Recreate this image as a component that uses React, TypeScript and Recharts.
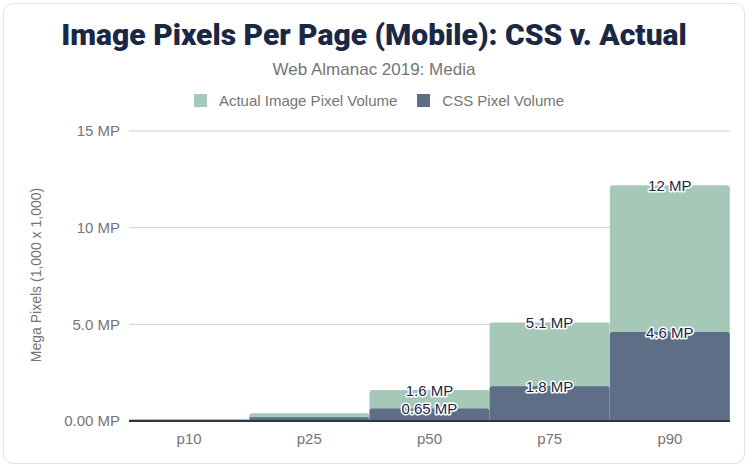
import { BarChart, Bar, XAxis, YAxis, CartesianGrid, LabelList } from "recharts";

const categories = ["p10", "p25", "p50", "p75", "p90"];
const actualPixels = [0.1, 0.4, 1.6, 5.1, 12.2];
const cssPixels = [0.05, 0.2, 0.65, 1.8, 4.6];
const yTicks = [0, 5, 10, 15];
const yTickLabels = ["0.00 MP", "5.0 MP", "10 MP", "15 MP"];

const GREEN = "#a6c8b9";
const NAVY = "#5e6e87";
const TITLE = "#1b2845";
const GREY = "#757575";
const TITLE_FONT = "Roboto, 'Noto Sans', Arial, sans-serif";
const FONT = "'Liberation Sans', Arial, sans-serif";

const data = categories.map((name, i) => ({
  name,
  actual: actualPixels[i],
  css: cssPixels[i],
}));

// value labels sit centred on the top edge of each step, small ones are skipped
const StepLabel = (props: any) => {
  const { x, y, width, value } = props;
  if (value == null || value < 0.5) return null;
  return (
    <text
      x={x + width / 2}
      y={y}
      textAnchor="middle"
      dominantBaseline="central"
      fontFamily={FONT}
      fontSize={15}
      fill={TITLE}
      stroke="#fff"
      strokeWidth={3}
      strokeLinejoin="round"
      paintOrder="stroke"
    >
      {Number(value).toPrecision(2)} MP
    </text>
  );
};

const App = () => {
  return (
    <div style={{ position: "relative", width: 748, height: 467, fontFamily: FONT }}>
      <style>{"body{margin:0}"}</style>
      <div
        style={{
          position: "absolute",
          left: 3,
          top: 3,
          width: 740,
          height: 459,
          border: "1px solid #e2e2e2",
          borderRadius: 10,
        }}
      />
      <div
        style={{
          position: "absolute",
          top: 17,
          width: "100%",
          textAlign: "center",
          fontFamily: TITLE_FONT,
          fontSize: 30,
          fontWeight: 900,
          color: TITLE,
        }}
      >
        Image Pixels Per Page (Mobile): CSS v. Actual
      </div>
      <div
        style={{
          position: "absolute",
          top: 60,
          width: "100%",
          textAlign: "center",
          fontSize: 17,
          color: GREY,
        }}
      >
        Web Almanac 2019: Media
      </div>
      <div
        style={{
          position: "absolute",
          top: 92,
          left: 5,
          width: "100%",
          display: "flex",
          justifyContent: "center",
          alignItems: "center",
          fontSize: 15,
          color: GREY,
        }}
      >
        <span style={{ width: 13, height: 13, background: GREEN, marginRight: 12 }} />
        <span style={{ marginRight: 20 }}>Actual Image Pixel Volume</span>
        <span style={{ width: 13, height: 13, background: NAVY, marginRight: 12 }} />
        <span>CSS Pixel Volume</span>
      </div>
      <div
        style={{
          position: "absolute",
          left: 36,
          top: 275,
          transform: "translate(-50%, -50%) rotate(-90deg)",
          whiteSpace: "nowrap",
          fontSize: 14,
          color: GREY,
        }}
      >
        Mega Pixels (1,000 x 1,000)
      </div>
      <div style={{ position: "absolute", left: 0, top: 0 }}>
        <BarChart
          width={748}
          height={467}
          data={data}
          margin={{ top: 131, right: 18, bottom: 16, left: 59 }}
          barCategoryGap={0}
        >
          <CartesianGrid vertical={false} stroke="#cccccc" />
          <XAxis
            xAxisId="actual"
            dataKey="name"
            height={30}
            tickLine={false}
            axisLine={{ stroke: "#2d3748", strokeWidth: 2 }}
            tick={{ fill: GREY, fontSize: 15, fontFamily: FONT }}
            tickMargin={6}
          />
          <XAxis xAxisId="css" dataKey="name" hide />
          <YAxis
            width={70}
            domain={[0, 15]}
            ticks={yTicks}
            tickFormatter={(v: number) => yTickLabels[yTicks.indexOf(v)]}
            axisLine={false}
            tickLine={false}
            tick={{ fill: GREY, fontSize: 15, fontFamily: FONT }}
            tickMargin={3}
          />
          <Bar
            xAxisId="actual"
            dataKey="actual"
            fill={GREEN}
            radius={[3, 3, 0, 0]}
            isAnimationActive={false}
          >
            <LabelList dataKey="actual" content={StepLabel} />
          </Bar>
          <Bar
            xAxisId="css"
            dataKey="css"
            fill={NAVY}
            radius={[3, 3, 0, 0]}
            isAnimationActive={false}
          >
            <LabelList dataKey="css" content={StepLabel} />
          </Bar>
        </BarChart>
      </div>
    </div>
  );
};

export default App;
